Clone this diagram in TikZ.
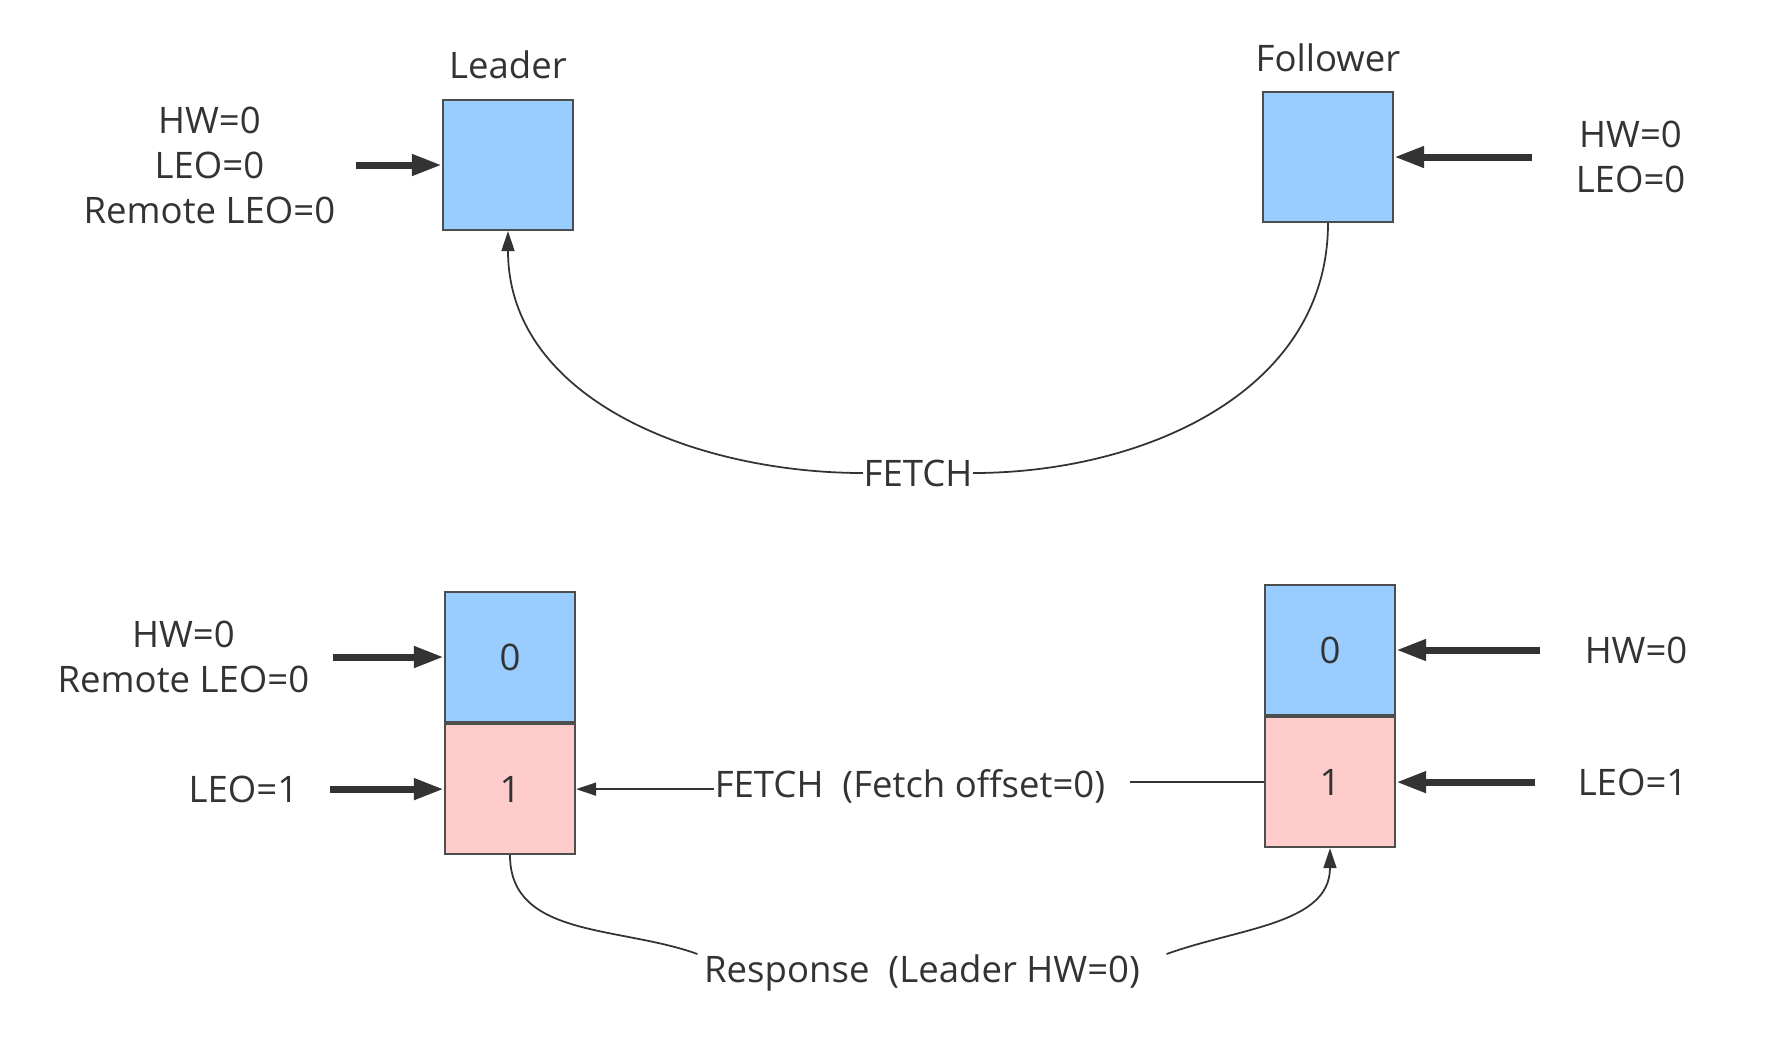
\documentclass[tikz,border=0pt]{standalone}
\usepackage{fontspec}
\setmainfont{Open Sans}
\usepackage{tikz}
\usetikzlibrary{positioning, arrows.meta, calc}
\definecolor{azul}{HTML}{99CCFF}
\definecolor{rosa}{HTML}{FFCCCC}
\definecolor{borde}{HTML}{4D4D4D}
\definecolor{tinta}{HTML}{333333}
\tikzset{
	x=0.1mm, y=-0.1mm, % Una unidad es un pixel de la imagen
	every node/.style={font=\fontsize{10.4}{12.8}\selectfont, text=tinta, inner sep=0pt}, % Letra de todos los nodos
	bloque/.style={draw=borde, line width=0.6pt, minimum width=13mm, minimum height=13mm}, % Cajas de la particion
	lider/.style={bloque, fill=azul}, % Mensaje ya confirmado
	nuevo/.style={bloque, fill=rosa}, % Mensaje nuevo
	gruesa/.style={-{Triangle[length=3mm,width=2mm]}, line width=2pt, draw=tinta}, % Flechas gruesas
	fina/.style={-{Triangle[length=2mm,width=1.3mm]}, line width=0.5pt, draw=tinta}, % Flechas finas
	linea/.style={line width=0.5pt, draw=tinta} % Lineas sin punta
}

\begin{document}
\begin{tikzpicture}
	\useasboundingbox (0,0) rectangle (1790,1060);
	\node[lider] (lead) at (508,165) {};
	\node[lider] (fol) at (1328,157) {};
	\node[above=1.9mm of lead] (leadname) {Leader};
	\node[above=1.8mm of fol] (folname) {Follower};
	\coordinate[left=8.6mm of lead] (leadtail);
	\coordinate[right=13.8mm of fol] (foltail);
	\node[left=2mm of leadtail, align=center] (leadinfo) {HW=0\\LEO=0\\Remote LEO=0};
	\node[right=4.3mm of foltail, align=center] (folinfo) {HW=0\\LEO=0};
	\draw[gruesa] (leadtail) -- (lead.west);
	\draw[gruesa] (foltail) -- (fol.east);
	\node (fetchA) at (918,473) {FETCH};
	\draw[linea] (fol.south) to[out=-90,in=0] (fetchA.east);
	\draw[fina] (fetchA.west) to[out=180,in=-90] (lead.south);

	\node[lider] (l0) at (510,657) {0};
	\node[nuevo, below=0pt of l0] (l1) {1};
	\node[lider] (f0) at (1330,650) {0};
	\node[nuevo, below=0pt of f0] (f1) {1};
	\coordinate[left=11.1mm of l0] (l0tail);
	\coordinate[left=11.4mm of l1] (l1tail);
	\coordinate[right=14.4mm of f0] (f0tail);
	\coordinate[right=13.9mm of f1] (f1tail);
	\node[left=2.3mm of l0tail, align=center] (l0info) {HW=0\\Remote LEO=0};
	\node[left=3.1mm of l1tail] (l1info) {LEO=1};
	\node[right=4.4mm of f0tail] (f0info) {HW=0};
	\node[right=4.2mm of f1tail] (f1info) {LEO=1};
	\draw[gruesa] (l0tail) -- (l0.west);
	\draw[gruesa] (l1tail) -- (l1.west);
	\draw[gruesa] (f0tail) -- (f0.east);
	\draw[gruesa] (f1tail) -- (f1.east);
	\node (fetchB) at (910,786) {FETCH\ \ (Fetch offset=0)};
	\draw[fina] (fetchB.west |- l1.east) -- (l1.east);
	\draw[linea] (f1.west) -- ($(fetchB.east |- f1.west)+(24,0)$);
	\node (resp) at (922,973) {Response\ \ (Leader HW=0)};
	\draw[linea] (l1.south) to[out=-90,in=160] ($(resp.north west)+(-6,0)$);
	\draw[fina] ($(resp.north east)+(26,0)$) to[out=20,in=-90] (f1.south);
\end{tikzpicture}
\end{document}
